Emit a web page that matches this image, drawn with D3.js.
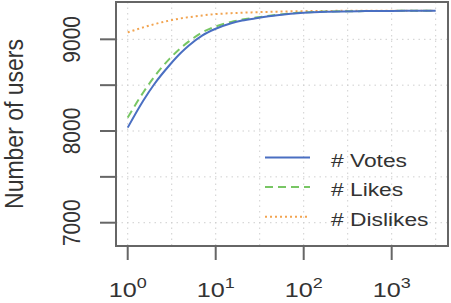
<!DOCTYPE html>
<html>
<head>
<meta charset="utf-8">
<script src="https://cdn.jsdelivr.net/npm/d3@7"></script>
<style>
  html, body { margin: 0; padding: 0; background: #fff; }
  svg { display: block; }
  text { font-family: "Liberation Sans", Arial, Helvetica, sans-serif; fill: #333; }
</style>
</head>
<body>
<div id="chart"></div>
<script>
// thresholds (x, log scale)
var thresholds = [1, 1.5, 2, 3, 4, 5, 7, 10, 15, 20, 30, 50, 100, 200, 500, 1000, 2000, 3162];
var votes    = [8037, 8330, 8510, 8720, 8850, 8935, 9040, 9115, 9175, 9205, 9232, 9262, 9290, 9302, 9308, 9310, 9311, 9312];
var likes    = [8146, 8420, 8590, 8790, 8905, 8980, 9075, 9140, 9190, 9215, 9240, 9268, 9293, 9303, 9308, 9310, 9311, 9312];
var dislikes = [9076, 9130, 9165, 9205, 9228, 9242, 9260, 9275, 9285, 9290, 9296, 9302, 9307, 9310, 9311, 9312, 9312, 9312];

var seriesNames = ["# Votes", "# Likes", "# Dislikes"];
var seriesColors = ["#4a6fc2", "#78c664", "#f2a450"];
var seriesDash = [null, "8,5", "2,3"];

var xTicks = [1, 10, 100, 1000];
var xTickExp = ["0", "1", "2", "3"];
var yTicks = [7000, 7500, 8000, 8500, 9000];
var yLabels = [7000, 8000, 9000];
var xGrid = [1, 3.162, 10, 31.62, 100, 316.2, 1000, 3162];

var width = 451, height = 303;
var plotLeft = 116, plotRight = 448, plotTop = 2, plotBottom = 246;
var sx = 1.2; // the picture is a bit wider than tall

var svg = d3.select("#chart").append("svg")
  .attr("width", width)
  .attr("height", height);

var x = d3.scaleLog().domain([0.736, 4365]).range([plotLeft, plotRight]);
var y = d3.scaleLinear().domain([6746, 9407]).range([plotBottom, plotTop]);

// grid
svg.append("g").selectAll("line")
  .data(xGrid)
  .enter().append("line")
    .attr("x1", function(d) { return x(d); })
    .attr("x2", function(d) { return x(d); })
    .attr("y1", plotTop).attr("y2", plotBottom)
    .style("stroke", "#cfcfcf")
    .style("stroke-width", 1)
    .style("stroke-dasharray", "1.5,4");

svg.append("g").selectAll("line")
  .data(yTicks)
  .enter().append("line")
    .attr("x1", plotLeft).attr("x2", plotRight)
    .attr("y1", function(d) { return y(d); })
    .attr("y2", function(d) { return y(d); })
    .style("stroke", "#cfcfcf")
    .style("stroke-width", 1)
    .style("stroke-dasharray", "1.5,4");

// curves
var line = d3.line()
  .x(function(d) { return x(d[0]); })
  .y(function(d) { return y(d[1]); })
  .curve(d3.curveMonotoneX);

var curves = svg.append("g");
[dislikes, likes, votes].forEach(function(vals, k) {
  var i = 2 - k;
  var pts = thresholds.map(function(t, j) { return [t, vals[j]]; });
  curves.append("path")
    .datum(pts)
    .attr("d", line)
    .style("fill", "none")
    .style("stroke", seriesColors[i])
    .style("stroke-width", 2)
    .style("stroke-dasharray", seriesDash[i]);
});

// box
svg.append("rect")
  .attr("x", plotLeft).attr("y", plotTop)
  .attr("width", plotRight - plotLeft).attr("height", plotBottom - plotTop)
  .style("fill", "none")
  .style("stroke", "#666")
  .style("stroke-width", 2);

// y axis ticks + labels
svg.append("g").selectAll("line")
  .data(yTicks)
  .enter().append("line")
    .attr("x1", plotLeft - 16).attr("x2", plotLeft)
    .attr("y1", function(d) { return y(d); })
    .attr("y2", function(d) { return y(d); })
    .style("stroke", "#666")
    .style("stroke-width", 2);

svg.append("g").selectAll("text")
  .data(yLabels)
  .enter().append("text")
    .attr("transform", function(d) { return "translate(80," + y(d) + ") scale(1.1,1) rotate(-90)"; })
    .attr("text-anchor", "middle")
    .style("font-size", "21px")
    .text(function(d) { return d; });

svg.append("text")
  .attr("transform", "translate(23," + ((plotTop + plotBottom) / 2) + ") scale(1.1,1) rotate(-90)")
  .attr("text-anchor", "middle")
  .style("font-size", "23px")
  .text("Number of users");

// x axis ticks + labels
svg.append("g").selectAll("line")
  .data(xTicks)
  .enter().append("line")
    .attr("x1", function(d) { return x(d); })
    .attr("x2", function(d) { return x(d); })
    .attr("y1", plotBottom).attr("y2", plotBottom + 14)
    .style("stroke", "#666")
    .style("stroke-width", 2);

var xl = svg.append("g").selectAll("text")
  .data(xTicks)
  .enter().append("text")
    .attr("transform", function(d) { return "translate(" + x(d) + ",297) scale(" + sx + ",1)"; })
    .attr("text-anchor", "middle")
    .style("font-size", "21px");
xl.append("tspan").text("10");
xl.append("tspan")
  .attr("dy", -9)
  .style("font-size", "15px")
  .text(function(d, i) { return xTickExp[i]; });

// legend
var legend = svg.append("g").selectAll("g")
  .data(seriesNames)
  .enter().append("g")
    .attr("transform", function(d, i) { return "translate(0," + (157.5 + i * 29.6) + ")"; });

legend.append("line")
  .attr("x1", 265).attr("x2", 310)
  .attr("y1", 0).attr("y2", 0)
  .style("stroke", function(d, i) { return seriesColors[i]; })
  .style("stroke-width", 2)
  .style("stroke-dasharray", function(d, i) { return seriesDash[i]; });

legend.append("text")
  .attr("transform", "translate(331,9) scale(" + sx + ",1)")
  .style("font-size", "19px")
  .text(function(d) { return d; });
</script>
</body>
</html>
